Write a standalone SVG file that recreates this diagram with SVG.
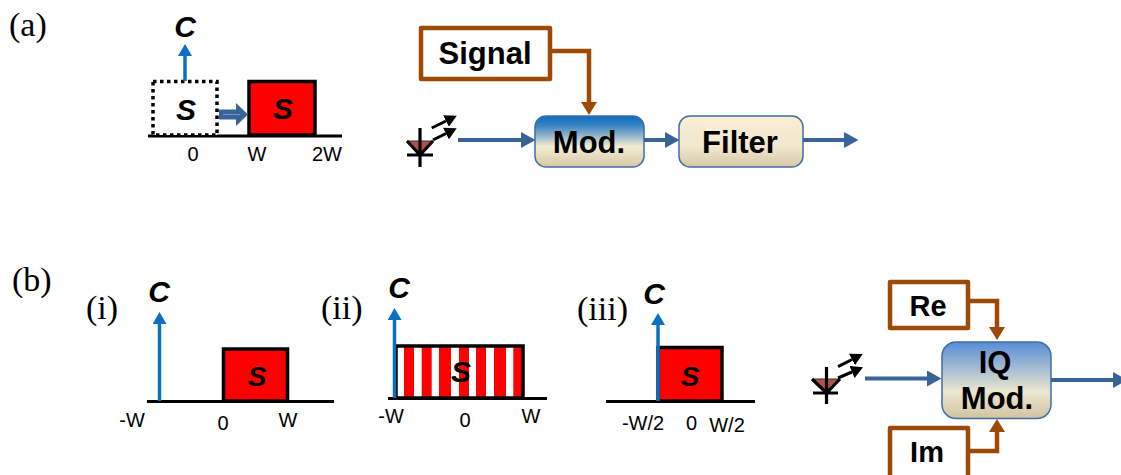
<svg xmlns="http://www.w3.org/2000/svg" width="1121" height="475" viewBox="0 0 1121 475">
<style>
text{font-family:"Liberation Sans",Arial,sans-serif;fill:#000;text-anchor:middle}
.roman{font-family:"Liberation Serif","Times New Roman",serif;font-size:34px;text-anchor:start}
.tick{font-size:20px}
.sym{font-size:30px;font-weight:bold;font-style:italic}
.sym2{font-size:28px;font-weight:bold;font-style:italic}
.lab{font-size:31px;font-weight:bold}
.axis{stroke:#000;stroke-width:3;fill:none}
.red{fill:#f00;stroke:#000;stroke-width:3.5}
.blue{stroke:#0b70c0;stroke-width:3.5;fill:none;marker-end:url(#mb)}
.steel{stroke:#3a6498;stroke-width:4;fill:none;marker-end:url(#ms)}
.brown{stroke:#9c4a06;stroke-width:4.5;fill:none;marker-end:url(#mr)}
.box{fill:#fff;stroke:#9c4a06;stroke-width:4.5;stroke-linejoin:round}
.blk{stroke:#000;stroke-width:3.2;fill:none}
.ray{stroke:#000;stroke-width:3;fill:none;marker-end:url(#mk)}
.tri{fill:#b5504c;stroke:#333;stroke-width:1}
.proc{stroke:#3f6fa5;stroke-width:1.5}
</style>
<defs>
<marker id="mb" markerUnits="userSpaceOnUse" markerWidth="13" markerHeight="14" refX="0" refY="7" orient="auto"><path d="M0 0L12 7L0 14Z" fill="#0b70c0"/></marker>
<marker id="ms" markerUnits="userSpaceOnUse" markerWidth="15" markerHeight="16" refX="0" refY="8" orient="auto"><path d="M0 0L14.5 8L0 16Z" fill="#3a6498"/></marker>
<marker id="mr" markerUnits="userSpaceOnUse" markerWidth="14" markerHeight="16" refX="0" refY="8" orient="auto"><path d="M0 0L13 8L0 16Z" fill="#9c4a06"/></marker>
<marker id="mk" markerUnits="userSpaceOnUse" markerWidth="13" markerHeight="13" refX="0" refY="6.5" orient="auto"><path d="M0 0L12 6.5L0 13Z" fill="#000"/></marker>
<linearGradient id="g1" x1="0" y1="0" x2="0" y2="1"><stop offset="0" stop-color="#0a6cbd"/><stop offset=".2" stop-color="#3f86c4"/><stop offset=".6" stop-color="#f4ecd4"/><stop offset="1" stop-color="#d6c8a6"/></linearGradient>
<linearGradient id="g2" x1="0" y1="0" x2="0" y2="1"><stop offset="0" stop-color="#fbeed5"/><stop offset=".6" stop-color="#f1e8cf"/><stop offset="1" stop-color="#d6c8a6"/></linearGradient>
<linearGradient id="g3" x1="0" y1="0" x2="0" y2="1"><stop offset="0" stop-color="#558dd6"/><stop offset=".65" stop-color="#ece6cf"/><stop offset="1" stop-color="#d0c3a0"/></linearGradient>
</defs>

<g id="panel-a-labels">
<text class="roman" x="9" y="36">(a)</text>
<text class="roman" x="12" y="291">(b)</text>
<text class="roman" x="86" y="319">(i)</text>
<text class="roman" x="321" y="319">(ii)</text>
<text class="roman" x="577" y="320">(iii)</text>
</g>

<g id="spectrum-a">
<line class="axis" x1="148" y1="136" x2="342" y2="136"/>
<rect x="153" y="81.5" width="64" height="53.5" fill="#fff" stroke="#000" stroke-width="3.5" stroke-dasharray="3.5 3.5"/>
<rect class="red" x="249" y="81.5" width="66" height="53.5"/>
<text class="sym" x="185" y="37">C</text>
<text class="sym" x="186" y="120">S</text>
<text class="sym" x="283" y="119">S</text>
<text class="tick" x="193" y="161">0</text>
<text class="tick" x="257" y="161">W</text>
<text class="tick" x="327" y="161">2W</text>
</g>

<g id="spectrum-i">
<line class="axis" x1="147" y1="401.5" x2="334" y2="401.5"/>
<rect class="red" x="223.5" y="349" width="64" height="52"/>
<text class="sym" x="159" y="302">C</text>
<text class="sym2" x="257" y="386">S</text>
<text class="tick" x="132" y="427">-W</text>
<text class="tick" x="223" y="430">0</text>
<text class="tick" x="288" y="427">W</text>
</g>

<g id="spectrum-ii">
<line class="axis" x1="388" y1="398.5" x2="547" y2="398.5"/>
<rect x="396" y="346" width="127" height="52" fill="#fff"/>
<g fill="#f00">
<rect x="404" y="346" width="10" height="52"/><rect x="421.7" y="346" width="10" height="52"/><rect x="439" y="346" width="12" height="52"/><rect x="459" y="346" width="10" height="52"/><rect x="476" y="346" width="10" height="52"/><rect x="494" y="346" width="12" height="52"/><rect x="513.3" y="346" width="9" height="52"/>
</g>
<rect x="396" y="346" width="127" height="52" fill="none" stroke="#000" stroke-width="3.5"/>
<text class="sym" x="399" y="298">C</text>
<text class="sym" x="461" y="382">S</text>
<text class="tick" x="391" y="423">-W</text>
<text class="tick" x="465" y="427">0</text>
<text class="tick" x="531" y="423">W</text>
</g>

<g id="spectrum-iii">
<line class="axis" x1="606" y1="401.5" x2="755" y2="401.5"/>
<rect class="red" x="658" y="347.5" width="64" height="53.5"/>
<text class="sym" x="654" y="304">C</text>
<text class="sym2" x="690" y="386">S</text>
<text class="tick" x="643" y="430">-W/2</text>
<text class="tick" x="691.5" y="430">0</text>
<text class="tick" x="727" y="432">W/2</text>
</g>

<g id="laser-a">
<path class="tri" d="M407 141H433L420 155Z"/>
<path class="blk" d="M420 128V167M407 155H433M407 141L420 155L433 141"/>
<line class="ray" x1="431.7" y1="128" x2="446" y2="121"/>
<line class="ray" x1="433" y1="140" x2="446" y2="133.5"/>
</g>
<g id="signal"><rect class="box" x="421" y="28" width="129" height="51"/><text class="lab" x="485" y="64">Signal</text></g>
<g id="mod"><rect class="proc" x="535" y="116" width="109" height="51" rx="11" fill="url(#g1)"/><text class="lab" x="589" y="153">Mod.</text></g>
<g id="filter"><rect class="proc" x="679" y="116" width="124" height="51" rx="11" fill="url(#g2)"/><text class="lab" x="740" y="153">Filter</text></g>

<g id="laser-b">
<path class="tri" d="M813 379H840L826.5 393Z"/>
<path class="blk" d="M826.5 367V404M813 393H838M812 379L826.5 393L840 379"/>
<line class="ray" x1="838" y1="366.7" x2="852" y2="359.5"/>
<line class="ray" x1="838" y1="378" x2="852" y2="372"/>
</g>
<g id="re"><rect class="box" x="890" y="282" width="78" height="46"/><text class="lab" x="928" y="316" style="font-size:29px">Re</text></g>
<g id="im"><rect class="box" x="890" y="428" width="78" height="50"/><text class="lab" x="927" y="462" style="font-size:29px">Im</text></g>
<g id="iqmod"><rect class="proc" x="942" y="342" width="109" height="76.5" rx="14" fill="url(#g3)"/><text class="lab" x="995" y="373">IQ</text><text class="lab" x="997" y="409">Mod.</text></g>

<g id="connectors">
<path class="blue" d="M185 81V56"/>
<path class="blue" d="M159.5 401V324"/>
<path class="blue" d="M394.5 398V320"/>
<path class="blue" d="M658 401V325"/>
<line x1="219" y1="114.5" x2="236" y2="114.5" stroke="#3a6498" stroke-width="10"/>
<path d="M236 103L248 114.5L236 126Z" fill="#3a6498"/>
<line x1="223" y1="114.5" x2="240" y2="114.5" stroke="#6f94c2" stroke-width="1"/>
<path class="steel" d="M458 140H521"/>
<path class="steel" d="M644 140H665"/>
<path class="steel" d="M803 140H844"/>
<path class="steel" d="M865 378.5H927"/>
<path class="steel" d="M1051 380H1113"/>
<path class="brown" d="M550 51H589V102"/>
<path class="brown" d="M968 301H997V327"/>
<path class="brown" d="M968 451H997V432"/>
</g>
</svg>
